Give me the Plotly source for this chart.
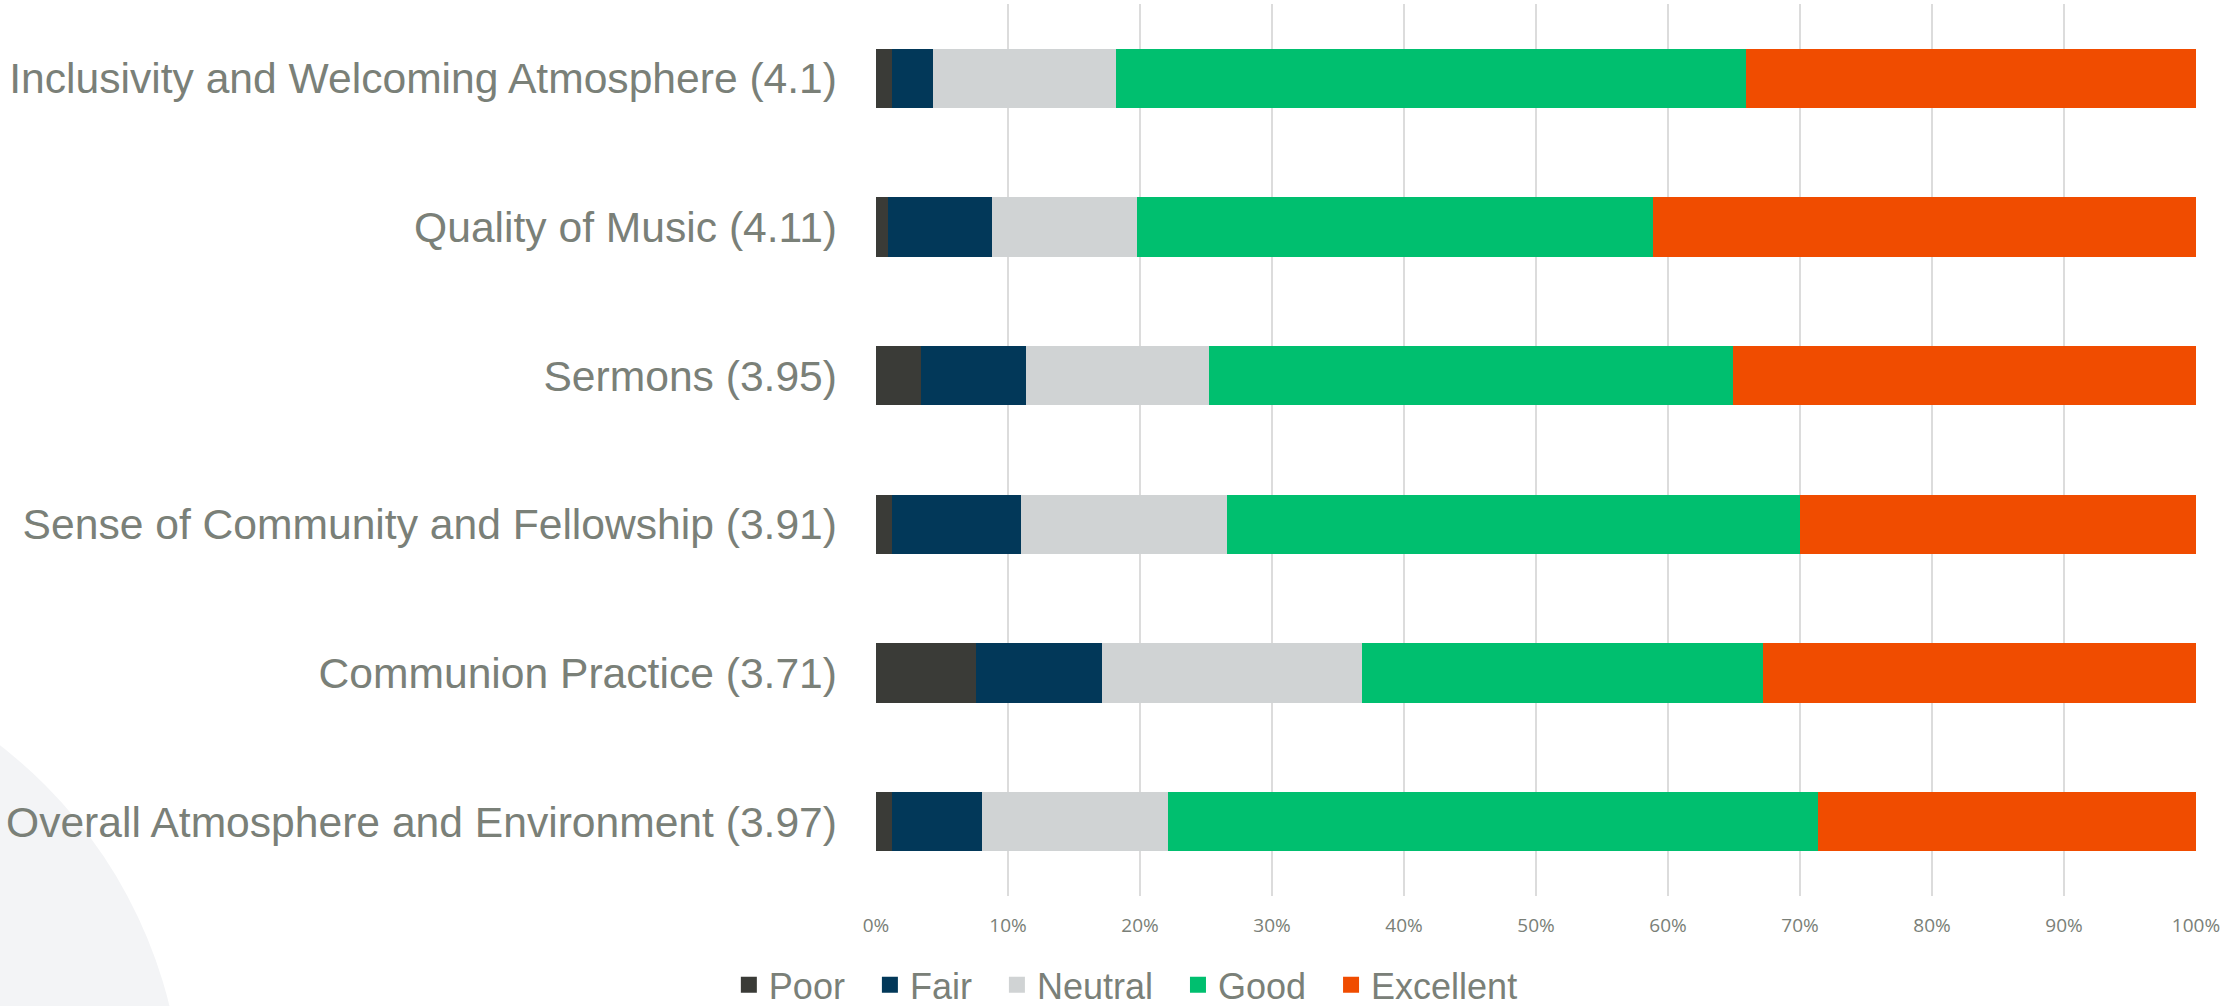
import plotly.graph_objects as go

categories = [
    "Inclusivity and Welcoming Atmosphere (4.1)",
    "Quality of Music (4.11)",
    "Sermons (3.95)",
    "Sense of Community and Fellowship (3.91)",
    "Communion Practice (3.71)",
    "Overall Atmosphere and Environment (3.97)",
]
poor = [1.2, 0.9, 3.4, 1.2, 7.6, 1.2]
fair = [3.1, 7.9, 8.0, 9.8, 9.5, 6.8]
neutral = [13.9, 11.0, 13.8, 15.6, 19.7, 14.1]
good = [47.7, 39.1, 39.7, 43.4, 30.4, 49.3]
excellent = [34.1, 41.1, 35.1, 30.0, 32.8, 28.6]

series_names = ["Poor", "Fair", "Neutral", "Good", "Excellent"]
series_values = [poor, fair, neutral, good, excellent]
series_colors = ["#3a3b37", "#023859", "#d0d3d4", "#00bf6f", "#f04c00"]

tick_vals = [0, 10, 20, 30, 40, 50, 60, 70, 80, 90, 100]
tick_text = ["0%", "10%", "20%", "30%", "40%", "50%", "60%", "70%", "80%", "90%", "100%"]

W, H = 2225, 1006
ML, MR, MT, MB = 876, 29, 4, 110

fig = go.Figure()
n = len(series_names)
for i, (name, vals, col) in enumerate(zip(series_names, series_values, series_colors)):
    fig.add_trace(go.Bar(
        y=categories, x=vals, name=name, orientation="h",
        marker=dict(color=col, line=dict(width=0)),
        showlegend=False,
    ))
    # legend entry with a larger square symbol
    label = name + ("\u00a0\u00a0" if i < n - 1 else "")
    fig.add_trace(go.Scatter(
        x=[None], y=[None], mode="markers", name=label,
        marker=dict(symbol="square", size=17, color=col),
        showlegend=True,
    ))

# decorative background circle (pixel geometry converted to paper coords)
pw, ph = W - ML - MR, H - MT - MB
def px_x(p):
    return (p - ML) / pw
def px_y(p):
    return (H - MB - p) / ph
cx, cy, r = -288, 1118, 471
fig.add_shape(type="circle", xref="paper", yref="paper",
              x0=px_x(cx - r), x1=px_x(cx + r), y0=px_y(cy + r), y1=px_y(cy - r),
              fillcolor="#f3f4f6", line=dict(width=0), layer="below")

fig.update_layout(
    width=W, height=H,
    margin=dict(l=ML, r=MR, t=MT, b=MB),
    barmode="stack",
    bargap=0.6,
    paper_bgcolor="rgba(0,0,0,0)",
    plot_bgcolor="rgba(0,0,0,0)",
    font=dict(family="Liberation Sans, Arial, sans-serif", color="#7a8078"),
    legend=dict(
        orientation="h", xref="container", yref="container",
        x=0.506, xanchor="center", y=0.021, yanchor="middle",
        font=dict(size=36, color="#7a8078", family="Liberation Sans, Arial, sans-serif"),
        bgcolor="rgba(0,0,0,0)",
        traceorder="normal",
    ),
    xaxis=dict(
        range=[0, 100], tickvals=tick_vals, ticktext=tick_text,
        showgrid=True, gridcolor="#dcdcdc", gridwidth=1.5,
        zeroline=False, showline=False, ticks="",
        tickfont=dict(size=19, color="#7a7f78", family="Open Sans, sans-serif"),
        ticklabelstandoff=16, fixedrange=True,
    ),
    yaxis=dict(
        autorange="reversed", showgrid=False, zeroline=False, showline=False,
        ticks="", tickfont=dict(size=42.6, color="#7a8078"),
        ticklabelstandoff=38,
    ),
)

fig.write_html(
    "out.html",
    config={"displayModeBar": False},
    post_script="document.body.style.margin='0';document.body.style.overflow='hidden';",
)
